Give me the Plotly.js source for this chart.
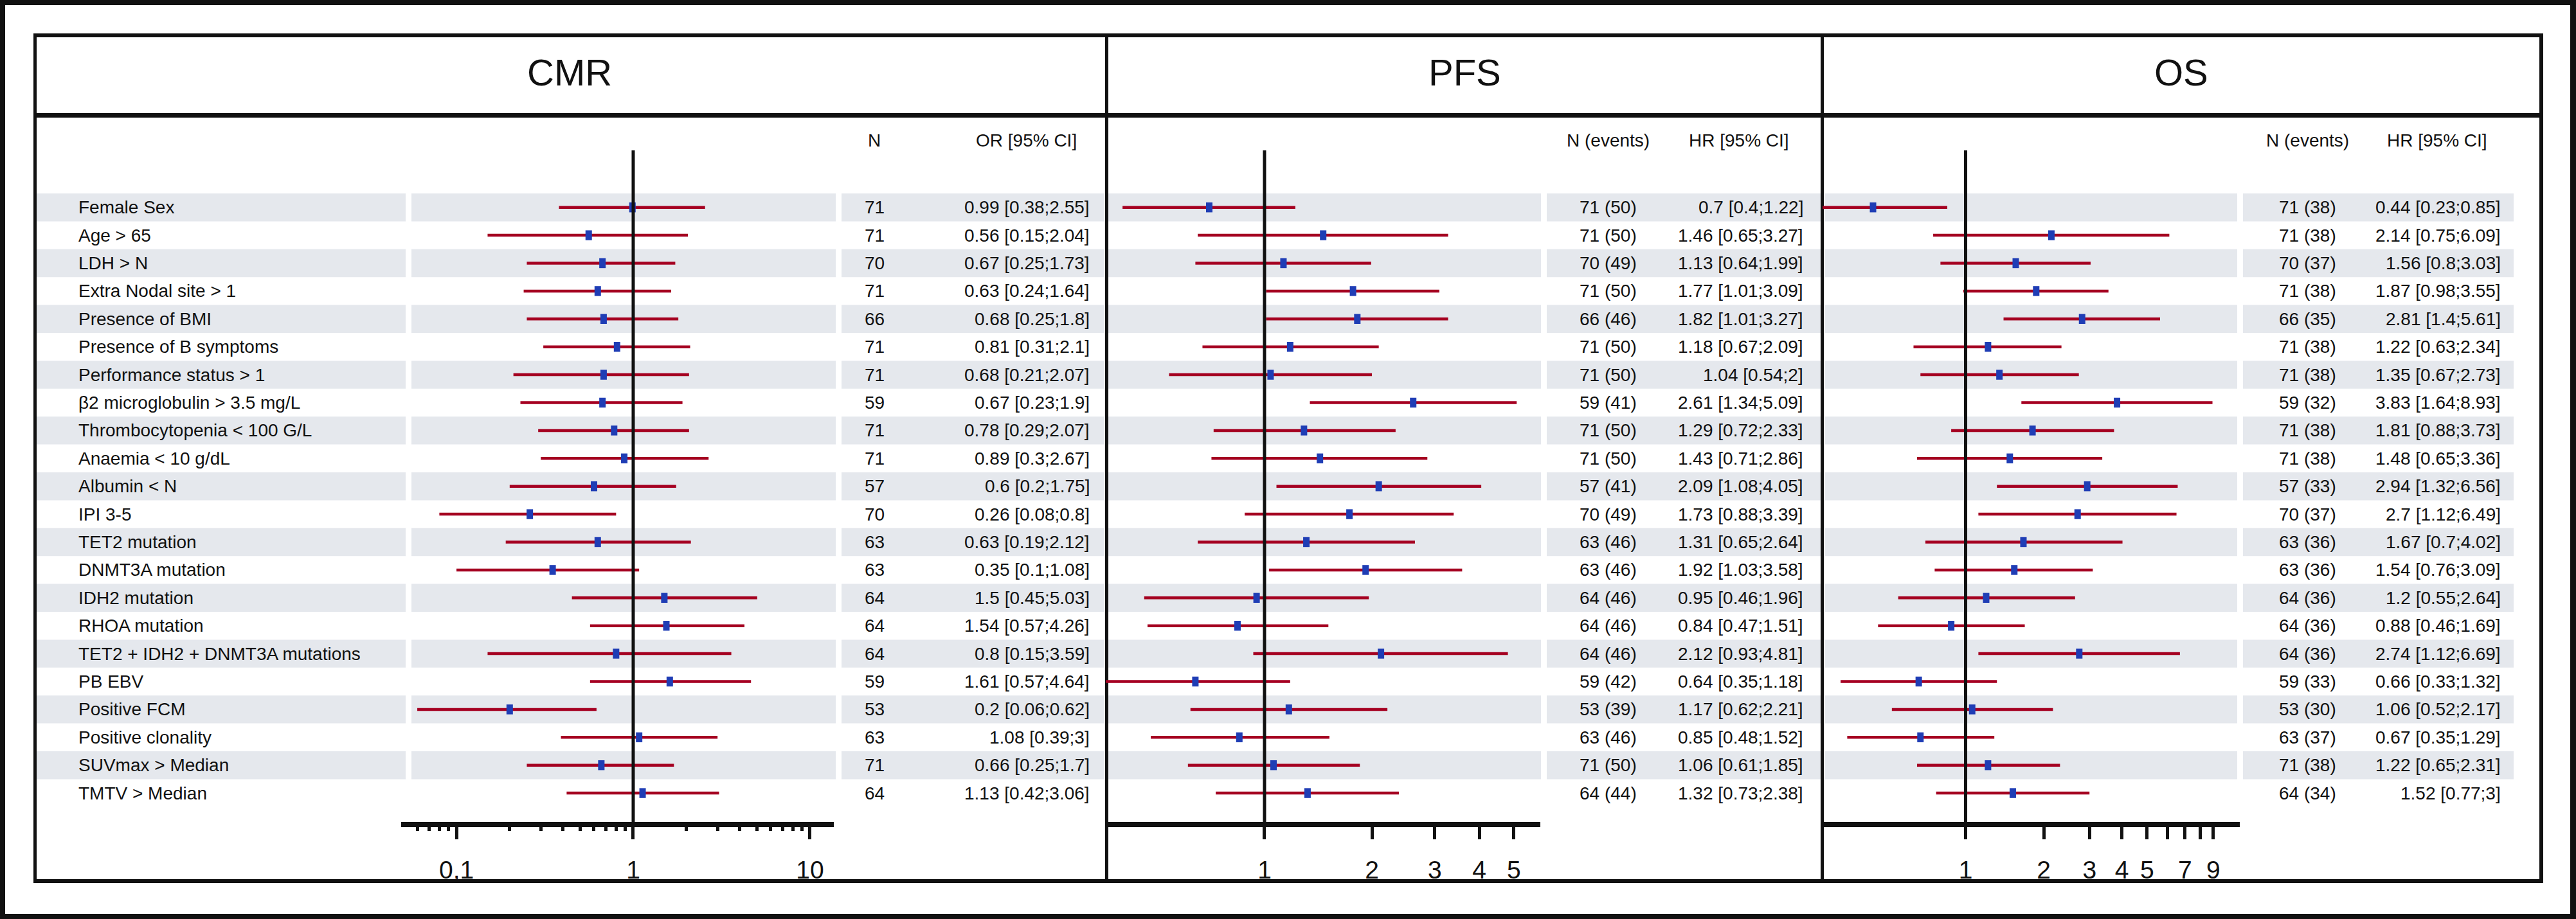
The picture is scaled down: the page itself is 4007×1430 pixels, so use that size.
<!DOCTYPE html>
<html><head><meta charset="utf-8">
<script src="https://cdn.plot.ly/plotly-3.0.1.min.js"></script>
<style>html,body{margin:0;padding:0;background:#fff}</style>
</head><body><div id="chart" style="width:4007px;height:1430px"></div>
<script>
// ---------------- DATA ----------------
const labels = ["Female Sex","Age > 65","LDH > N","Extra Nodal site > 1","Presence of BMI","Presence of B symptoms","Performance status > 1","\u03B22 microglobulin > 3.5 mg/L","Thrombocytopenia < 100 G/L","Anaemia < 10 g/dL","Albumin < N","IPI 3-5","TET2 mutation","DNMT3A mutation","IDH2 mutation","RHOA mutation","TET2 + IDH2 + DNMT3A mutations","PB EBV","Positive FCM","Positive clonality","SUVmax > Median","TMTV > Median"];

const cmrN  = [71,71,70,71,66,71,71,59,71,71,57,70,63,63,64,64,64,59,53,63,71,64];
const cmrOR = [0.99,0.56,0.67,0.63,0.68,0.81,0.68,0.67,0.78,0.89,0.6,0.26,0.63,0.35,1.5,1.54,0.8,1.61,0.2,1.08,0.66,1.13];
const cmrLo = [0.38,0.15,0.25,0.24,0.25,0.31,0.21,0.23,0.29,0.3,0.2,0.08,0.19,0.1,0.45,0.57,0.15,0.57,0.06,0.39,0.25,0.42];
const cmrHi = [2.55,2.04,1.73,1.64,1.8,2.1,2.07,1.9,2.07,2.67,1.75,0.8,2.12,1.08,5.03,4.26,3.59,4.64,0.62,3,1.7,3.06];

const pfsN  = [71,71,70,71,66,71,71,59,71,71,57,70,63,63,64,64,64,59,53,63,71,64];
const pfsEv = [50,50,49,50,46,50,50,41,50,50,41,49,46,46,46,46,46,42,39,46,50,44];
const pfsHR = [0.7,1.46,1.13,1.77,1.82,1.18,1.04,2.61,1.29,1.43,2.09,1.73,1.31,1.92,0.95,0.84,2.12,0.64,1.17,0.85,1.06,1.32];
const pfsLo = [0.4,0.65,0.64,1.01,1.01,0.67,0.54,1.34,0.72,0.71,1.08,0.88,0.65,1.03,0.46,0.47,0.93,0.35,0.62,0.48,0.61,0.73];
const pfsHi = [1.22,3.27,1.99,3.09,3.27,2.09,2,5.09,2.33,2.86,4.05,3.39,2.64,3.58,1.96,1.51,4.81,1.18,2.21,1.52,1.85,2.38];

const osN   = [71,71,70,71,66,71,71,59,71,71,57,70,63,63,64,64,64,59,53,63,71,64];
const osEv  = [38,38,37,38,35,38,38,32,38,38,33,37,36,36,36,36,36,33,30,37,38,34];
const osHR  = [0.44,2.14,1.56,1.87,2.81,1.22,1.35,3.83,1.81,1.48,2.94,2.7,1.67,1.54,1.2,0.88,2.74,0.66,1.06,0.67,1.22,1.52];
const osLo  = [0.23,0.75,0.8,0.98,1.4,0.63,0.67,1.64,0.88,0.65,1.32,1.12,0.7,0.76,0.55,0.46,1.12,0.33,0.52,0.35,0.65,0.77];
const osHi  = [0.85,6.09,3.03,3.55,5.61,2.34,2.73,8.93,3.73,3.36,6.56,6.49,4.02,3.09,2.64,1.69,6.69,1.32,2.17,1.29,2.31,3];

const panelTitles = ["CMR","PFS","OS"];
const nHeaders    = ["N","N (events)","N (events)"];
const estHeaders  = ["OR [95% CI]","HR [95% CI]","HR [95% CI]"];

const cmrTickVals = [0.1,1,10];
const cmrTickText = ["0,1","1","10"];
const cmrMinorVals = [0.06,0.07,0.08,0.09,0.2,0.3,0.4,0.5,0.6,0.7,0.8,0.9,2,3,4,5,6,7,8,9];
const pfsTickVals = [1,2,3,4,5];
const pfsTickText = ["1","2","3","4","5"];
const osTickVals  = [1,2,3,4,5,6,7,8,9];
const osTickText  = ["1","2","3","4","5","","7","","9"];

// ---------------- GEOMETRY / STYLE ----------------
const W = 4007, H = 1430;
const px = v => v / W;
const py = v => 1 - v / H;
const FONT = '"Liberation Sans", Arial, Helvetica, sans-serif';
const INK = '#111111';
const RED = '#a50021', BLUE = '#1f3db5', BAND = '#e5e8ed';

const panels = [
  {ax:'x',  axKey:'xaxis',  dom:[624,1297],  rng:[-1.313,1.135], est:cmrOR, lo:cmrLo, hi:cmrHi,
   nText: cmrN.map(String), tv:cmrTickVals, tt:cmrTickText, minor:cmrMinorVals,
   titleX:886, nX:1360, estHX:1596, estX:1697,
   bands:[[640,1300],[1309,1718]]},
  {ax:'x2', axKey:'xaxis2', dom:[1720,2396], rng:[-0.445,0.773], est:pfsHR, lo:pfsLo, hi:pfsHi,
   nText: pfsN.map((n,i)=>n+' ('+pfsEv[i]+')'), tv:pfsTickVals, tt:pfsTickText, minor:null,
   titleX:2278, nX:2501, estHX:2705, estX:2807,
   bands:[[1724,2397],[2406,2832]]},
  {ax:'x3', axKey:'xaxis3', dom:[2835,3484], rng:[-0.551,1.056], est:osHR, lo:osLo, hi:osHi,
   nText: osN.map((n,i)=>n+' ('+osEv[i]+')'), tv:osTickVals, tt:osTickText, minor:null,
   titleX:3393, nX:3589, estHX:3791, estX:3892,
   bands:[[2838,3480],[3489,3910]]}
];

const traces = [];
const shapes = [];
const annotations = [];
const layout = {
  width: W, height: H, autosize: false,
  margin: {l:0, r:0, t:0, b:0, pad:0},
  paper_bgcolor: '#ffffff', plot_bgcolor: 'rgba(0,0,0,0)',
  showlegend: false,
  font: {family: FONT, color: INK, size: 28},
  yaxis: {domain:[py(1279), py(234)], range:[22.035,-2.044], visible:false,
          showgrid:false, zeroline:false, fixedrange:true}
};

// rect helper in pixel space
function rectPx(x0,y0,x1,y1,color){
  shapes.push({type:'rect', xref:'paper', yref:'paper', x0:px(x0), x1:px(x1), y0:py(y1), y1:py(y0),
               fillcolor:color, line:{width:0}, layer:'below'});
}

// row bands (even rows shaded)
labels.forEach((lab,i)=>{
  if(i % 2 === 0){
    const segs = [[57,631]].concat(panels[0].bands, panels[1].bands, panels[2].bands);
    segs.forEach(s=>{
      shapes.push({type:'rect', xref:'paper', yref:'y', x0:px(s[0]), x1:px(s[1]), y0:i-0.5, y1:i+0.5,
                   fillcolor:BAND, line:{width:0}, layer:'below'});
    });
  }
  annotations.push({xref:'paper', yref:'y', x:px(120), y:i, xanchor:'left', yanchor:'middle',
                    text:lab, showarrow:false, font:{size:28, color:INK, family:FONT}});
});

panels.forEach((p,k)=>{
  const xs=[], ys=[];
  p.lo.forEach((l,i)=>{ xs.push(l, p.hi[i], null); ys.push(i, i, null); });
  traces.push({type:'scatter', mode:'lines', x:xs, y:ys, xaxis:p.ax, yaxis:'y',
               line:{color:RED, width:4.5}, hoverinfo:'skip', showlegend:false});
  traces.push({type:'scatter', mode:'markers', x:p.est, y:p.est.map((_,i)=>i), xaxis:p.ax, yaxis:'y',
               marker:{symbol:'line-ns', size:11, color:BLUE, line:{color:BLUE, width:10}},
               hoverinfo:'skip', showlegend:false});

  const axis = {
    type:'log', domain:[px(p.dom[0]), px(p.dom[1])], range:p.rng, anchor:'y',
    showline:true, linewidth:8, linecolor:INK, showgrid:false, zeroline:false,
    ticks:'outside', ticklen:19, tickwidth:5, tickcolor:INK,
    tickmode:'array', tickvals:p.tv, ticktext:p.tt,
    tickfont:{size:39, color:INK, family:FONT}, ticklabelstandoff:14, fixedrange:true
  };
  if(p.minor){
    axis.minor = {tickmode:'array', tickvals:p.minor, ticks:'outside', ticklen:6, tickwidth:5,
                  tickcolor:INK, showgrid:false};
  }
  layout[p.axKey] = axis;

  // reference line at 1
  shapes.push({type:'line', xref:p.ax, yref:'y domain', x0:1, x1:1, y0:0, y1:1,
               line:{color:INK, width:5}, layer:'above'});

  // titles and headers
  annotations.push({xref:'paper', yref:'paper', x:px(p.titleX), y:py(112), xanchor:'center', yanchor:'middle',
                    text:panelTitles[k], showarrow:false, font:{size:58, color:INK, family:FONT}});
  annotations.push({xref:'paper', yref:'paper', x:px(p.nX), y:py(218), xanchor:'center', yanchor:'middle',
                    text:nHeaders[k], showarrow:false, font:{size:28, color:INK, family:FONT}});
  annotations.push({xref:'paper', yref:'paper', x:px(p.estHX), y:py(218), xanchor:'center', yanchor:'middle',
                    text:estHeaders[k], showarrow:false, font:{size:28, color:INK, family:FONT}});

  // value columns
  p.est.forEach((e,i)=>{
    annotations.push({xref:'paper', yref:'y', x:px(p.nX), y:i, xanchor:'center', yanchor:'middle',
                      text:p.nText[i], showarrow:false, font:{size:28, color:INK, family:FONT}});
    annotations.push({xref:'paper', yref:'y', x:px(p.estX), y:i, xanchor:'right', yanchor:'middle',
                      text:e + ' [' + p.lo[i] + ';' + p.hi[i] + ']', showarrow:false,
                      font:{size:28, color:INK, family:FONT}});
  });
});

// table frame lines
rectPx(52,52,3956,58,INK);     // top
rectPx(52,176,3956,183,INK);   // header separator
rectPx(52,1368,3956,1374,INK); // bottom
rectPx(52,52,57,1374,INK);     // left
rectPx(3950,52,3956,1374,INK); // right
rectPx(1719,52,1724,1374,INK); // CMR | PFS
rectPx(2832,52,2837,1374,INK); // PFS | OS
// outer image frame
rectPx(0,0,W,8,INK);
rectPx(0,1422,W,H,INK);
rectPx(0,0,8,H,INK);
rectPx(3998,0,W,H,INK);

layout.shapes = shapes;
layout.annotations = annotations;

Plotly.newPlot('chart', traces, layout, {staticPlot:true, displayModeBar:false});
</script>
</body></html>
